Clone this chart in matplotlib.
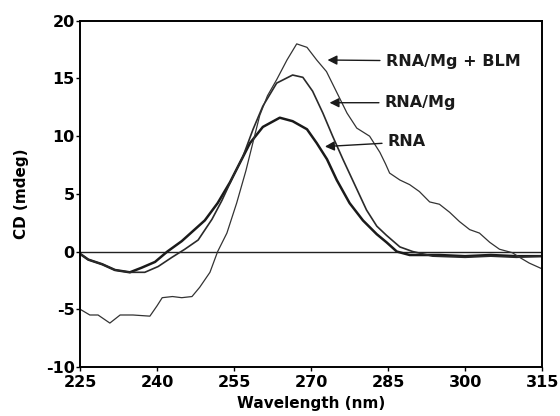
import matplotlib.pyplot as plt

plt.rcParams['font.family'] = ['DejaVu Sans']
plt.rcParams['axes.unicode_minus'] = False

# CD spectra (wavelength in nm, CD in mdeg)
wl_rna = [225, 226.6, 229.3, 231.8, 234.7, 237, 239.6, 242, 244.8, 246.8, 249.3, 251.8,
          254.2, 255.8, 258.1, 260.6, 263.9, 266.4, 269.2, 271.1, 273.1, 275, 277.5,
          280.1, 282.8, 284.7, 286.7, 289.2, 295, 300, 305, 310, 315]
cd_rna = [-0.2, -0.7, -1.1, -1.6, -1.8, -1.4, -0.9, 0.0, 0.9, 1.7, 2.7, 4.2,
          6.0, 7.4, 9.4, 10.8, 11.6, 11.3, 10.6, 9.4, 8.0, 6.2, 4.2,
          2.7, 1.5, 0.8, 0.0, -0.3, -0.3, -0.4, -0.3, -0.4, -0.4]

wl_mg = [225, 226.6, 229.3, 231.8, 234.7, 237.6, 240.2, 242.9, 245.4, 248, 250.7, 252.6,
         254.8, 256.7, 258.7, 260.6, 263.3, 266.4, 268.4, 270.3, 272.3, 274.2, 276.2,
         278.5, 280.8, 282.8, 284.7, 287.3, 289.8, 293.7, 300, 305, 310, 315]
cd_mg = [-0.2, -0.7, -1.1, -1.6, -1.8, -1.8, -1.3, -0.5, 0.2, 1.0, 2.8, 4.4,
         6.5, 8.2, 10.6, 12.6, 14.6, 15.3, 15.1, 13.9, 12.0, 10.0, 8.0,
         5.8, 3.6, 2.2, 1.4, 0.4, 0.0, -0.4, -0.5, -0.4, -0.5, -0.4]

wl_blm = [225, 226.9, 228.5, 230.8, 232.8, 235.3, 238.6, 240, 241, 243, 244.8, 246.8,
          248.3, 250.3, 251.8, 253.6, 255.5, 257.3, 258.7, 260, 261.5, 263.3, 265.3,
          267.2, 269.2, 271.1, 273, 275, 277, 278.9, 281.4, 283.4, 284.5, 285.3, 287.3,
          289.2, 291.1, 293.1, 295, 297, 298.9, 300.9, 302.8, 304.8, 306.7, 309.2,
          310.6, 312.5, 315]
cd_blm = [-5.0, -5.5, -5.5, -6.2, -5.5, -5.5, -5.6, -4.7, -4.0, -3.9, -4.0, -3.9,
          -3.1, -1.8, 0.0, 1.6, 4.2, 7.0, 9.5, 11.8, 13.5, 14.9, 16.6,
          18.0, 17.7, 16.6, 15.6, 13.8, 12.0, 10.7, 10.0, 8.6, 7.6, 6.8, 6.2,
          5.8, 5.2, 4.3, 4.1, 3.4, 2.6, 1.9, 1.6, 0.8, 0.2, -0.1,
          -0.5, -1.0, -1.5]

labels = ['RNA/Mg + BLM', 'RNA/Mg', 'RNA']
label_xy = [(284.5, 16.5), (284.3, 12.9), (284.9, 9.5)]
arrow_tip = [(273.2, 16.6), (273.6, 12.9), (272.7, 9.1)]

fig = plt.figure(figsize=(5.6, 4.16), dpi=100)
ax = fig.add_axes([0.143, 0.118, 0.825, 0.832])

ax.axhline(0, color='#222222', lw=1.0)
ax.plot(wl_rna, cd_rna, color='#1a1a1a', lw=1.8)
ax.plot(wl_mg, cd_mg, color='#2a2a2a', lw=1.2)
ax.plot(wl_blm, cd_blm, color='#333333', lw=0.9)

for lab, xy, tip in zip(labels, label_xy, arrow_tip):
    ax.annotate(lab, xy=tip, xytext=xy, fontsize=11.5, fontweight='bold',
                va='center', ha='left', color='#1a1a1a',
                arrowprops=dict(arrowstyle='-|>', color='#1a1a1a', lw=1.0,
                                mutation_scale=14, shrinkA=2, shrinkB=0))

ax.set_xlim(225, 315)
ax.set_ylim(-10, 20)
ax.set_xticks([225, 240, 255, 270, 285, 300, 315])
ax.set_yticks([-10, -5, 0, 5, 10, 15, 20])
ax.tick_params(direction='out', length=3, width=1, labelsize=11.5)
ax.tick_params(axis='x', pad=3)
ax.tick_params(axis='y', pad=1)
for t in ax.get_xticklabels() + ax.get_yticklabels():
    t.set_fontweight('bold')
for s in ax.spines.values():
    s.set_linewidth(1.4)

ax.set_xlabel('Wavelength (nm)', fontsize=11, fontweight='bold', labelpad=4)
ax.set_ylabel('CD (mdeg)', fontsize=11, fontweight='bold', labelpad=12)

fig.savefig('out.png', dpi=100)
